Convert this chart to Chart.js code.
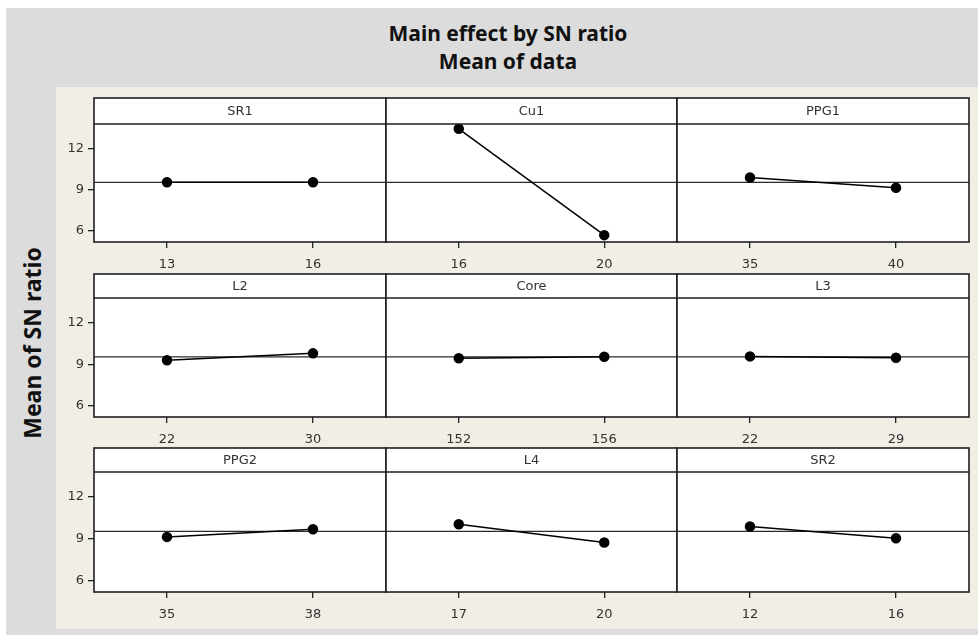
<!DOCTYPE html>
<html>
<head>
<meta charset="utf-8">
<script src="https://cdn.jsdelivr.net/npm/chart.js@4.4.0/dist/chart.umd.min.js"></script>
<style>
  body { margin: 0; background: #fff; }
  #page { position: relative; width: 978px; height: 635px; overflow: hidden; }
  #back { position: absolute; left: 6px; top: 8px; width: 972px; height: 627px; background: #dcdcdc; }
  #inner { position: absolute; left: 56px; top: 87px; width: 922px; height: 542px; background: #f1eee5; }
  .title { position: absolute; left: 0; top: 19px; width: 1016px; text-align: center;
           font: bold 21px "Noto Sans", sans-serif; line-height: 28px; color: #111; }
  #ylab { position: absolute; left: -119px; top: 328px; width: 300px; height: 30px; line-height: 30px;
          text-align: center; font: bold 23px "Noto Sans", sans-serif; color: #111; transform: rotate(-90deg); }
  canvas { position: absolute; }
</style>
</head>
<body>
<div id="page">
  <div id="back"></div>
  <div id="inner"></div>
  <div class="title">Main effect by SN ratio<br>Mean of data</div>
  <div id="ylab">Mean of SN ratio</div>
</div>
<script>
// 요인별 SN비 평균 (수준 2개씩)
const factors = ['SR1', 'Cu1', 'PPG1', 'L2', 'Core', 'L3', 'PPG2', 'L4', 'SR2'];
const levels = [
    ['13', '16'], ['16', '20'], ['35', '40'],
    ['22', '30'], ['152', '156'], ['22', '29'],
    ['35', '38'], ['17', '20'], ['12', '16']
];
const snMeans = [
    [9.55, 9.55], [13.45, 5.7], [9.9, 9.15],
    [9.3, 9.8], [9.45, 9.55], [9.58, 9.48],
    [9.15, 9.7], [10.05, 8.75], [9.9, 9.05]
];
const grandMean = 9.55;
const yTicks = [6, 9, 12];
const yMin = 5.2, yMax = 13.8;

// 패널 위치 (px)
const colLefts = [94, 386, 677];
const colRights = [386, 677, 969];
const rowTops = [98, 274, 448];
const rowPlotTops = [124, 298, 472];
const rowBottoms = [242, 417, 592];
const axisW = 50, xAxisH = 32;

const panelFrame = {
    id: 'panelFrame',
    beforeDraw(chart, args, opts) {
        const { ctx, chartArea: a } = chart;
        ctx.save();
        ctx.fillStyle = '#fff';
        ctx.fillRect(a.left, a.top - opts.headerH, a.right - a.left, a.bottom - a.top + opts.headerH);
        ctx.restore();
    },
    beforeDatasetsDraw(chart) {
        const { ctx, chartArea: a, scales: { y } } = chart;
        const ym = y.getPixelForValue(grandMean);
        ctx.save();
        ctx.strokeStyle = '#2b2b2b';
        ctx.lineWidth = 1.3;
        ctx.beginPath();
        ctx.moveTo(a.left, ym);
        ctx.lineTo(a.right, ym);
        ctx.stroke();
        ctx.restore();
    },
    afterDraw(chart, args, opts) {
        const { ctx, chartArea: a } = chart;
        const top = a.top - opts.headerH;
        ctx.save();
        ctx.strokeStyle = '#1e1e1e';
        ctx.lineWidth = 1.6;
        ctx.strokeRect(a.left, top, a.right - a.left, a.bottom - top);
        ctx.beginPath();
        ctx.moveTo(a.left, a.top);
        ctx.lineTo(a.right, a.top);
        ctx.stroke();
        ctx.fillStyle = '#333';
        ctx.font = '13px "DejaVu Sans"';
        ctx.textAlign = 'center';
        ctx.textBaseline = 'middle';
        ctx.fillText(opts.label, (a.left + a.right) / 2, top + opts.headerH / 2 + 1);
        ctx.restore();
    }
};

const page = document.getElementById('page');

factors.forEach(function (name, i) {
    const r = Math.floor(i / 3), c = i % 3;
    const headerH = rowPlotTops[r] - rowTops[r];
    const plotW = colRights[c] - colLefts[c];
    const plotH = rowBottoms[r] - rowPlotTops[r];
    const w = plotW + axisW + 2;
    const h = 1 + headerH + plotH + xAxisH;

    const cv = document.createElement('canvas');
    cv.width = w; cv.height = h;
    cv.style.left = (colLefts[c] - axisW) + 'px';
    cv.style.top = (rowTops[r] - 1) + 'px';
    cv.style.width = w + 'px';
    cv.style.height = h + 'px';
    page.appendChild(cv);

    new Chart(cv.getContext('2d'), {
        type: 'line',
        data: {
            labels: levels[i],
            datasets: [{
                data: snMeans[i],
                borderColor: '#000',
                backgroundColor: '#000',
                borderWidth: 1.5,
                pointRadius: 4.5,
                pointHoverRadius: 4.5,
                tension: 0
            }]
        },
        options: {
            responsive: false,
            animation: false,
            devicePixelRatio: 1,
            layout: {
                autoPadding: false,
                padding: { top: headerH + 1, right: 2, bottom: 0, left: 0 }
            },
            plugins: {
                legend: { display: false },
                tooltip: { enabled: false },
                panelFrame: { label: name, headerH: headerH }
            },
            scales: {
                x: {
                    type: 'category',
                    offset: true,
                    afterFit: function (s) { s.height = xAxisH; },
                    border: { display: false },
                    grid: { drawOnChartArea: false, drawTicks: true, tickLength: 6, color: '#222', lineWidth: 1.3 },
                    ticks: { color: '#333', padding: 9, font: { family: 'DejaVu Sans', size: 13 }, maxRotation: 0 }
                },
                y: {
                    display: true,
                    min: yMin,
                    max: yMax,
                    afterFit: function (s) { s.width = axisW; },
                    afterBuildTicks: function (s) { s.ticks = yTicks.map(function (v) { return { value: v }; }); },
                    border: { display: false },
                    grid: { drawOnChartArea: false, drawTicks: c === 0, tickLength: 6, color: '#222', lineWidth: 1.3 },
                    ticks: { display: c === 0, color: '#333', padding: 4, font: { family: 'DejaVu Sans', size: 13 } }
                }
            }
        },
        plugins: [panelFrame]
    });
});
</script>
</body>
</html>
